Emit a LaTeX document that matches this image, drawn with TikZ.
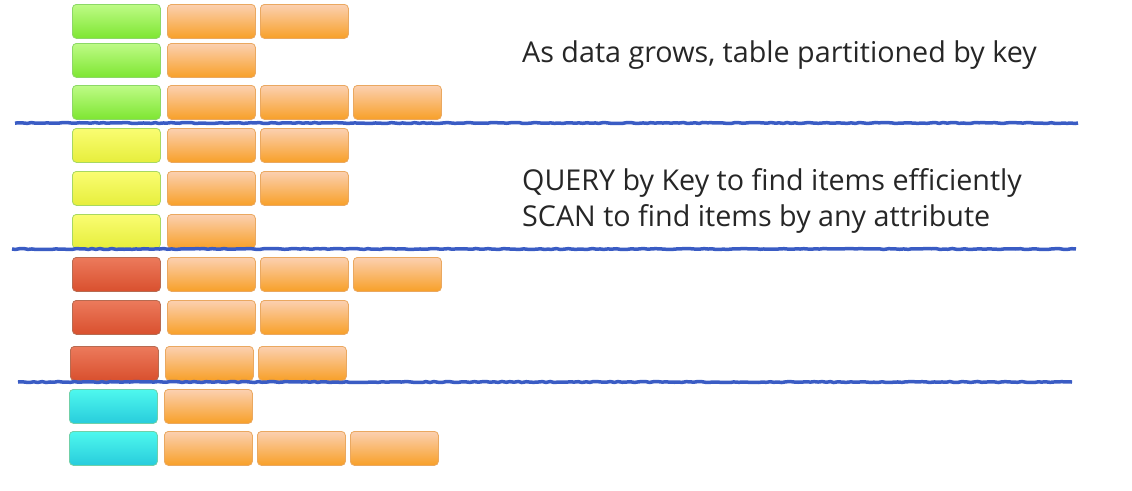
\documentclass[tikz,border=0pt]{standalone}
\usepackage{fontspec}
\setmainfont{Open Sans}
\usetikzlibrary{decorations.pathmorphing}
\definecolor{gTop}{HTML}{BEFB86}
\definecolor{gBot}{HTML}{7EE632}
\definecolor{gLine}{HTML}{8CD866}
\definecolor{yTop}{HTML}{FAFD72}
\definecolor{yBot}{HTML}{E6EE3C}
\definecolor{yLine}{HTML}{A8D860}
\definecolor{rTop}{HTML}{EC7A5C}
\definecolor{rBot}{HTML}{D9502E}
\definecolor{rLine}{HTML}{B86A50}
\definecolor{cTop}{HTML}{4EF8EE}
\definecolor{cBot}{HTML}{28CCDC}
\definecolor{cLine}{HTML}{70D0A8}
\definecolor{oTop}{HTML}{FBD0B0}
\definecolor{oBot}{HTML}{F8A028}
\definecolor{oLine}{HTML}{EAA860}
\definecolor{divBlue}{HTML}{3A5CC4}
\begin{document}
\begin{tikzpicture}[x=1pt,y=-1pt,
  cell/.style={rectangle,rounded corners=4pt,minimum width=88pt,minimum height=34pt,anchor=north west,inner sep=0pt,line width=0.8pt},
  keygreen/.style={cell,draw=gLine,top color=gTop,bottom color=gBot},
  keyyellow/.style={cell,draw=yLine,top color=yTop,bottom color=yBot},
  keyred/.style={cell,draw=rLine,top color=rTop,bottom color=rBot},
  keycyan/.style={cell,draw=cLine,top color=cTop,bottom color=cBot},
  item/.style={cell,draw=oLine,top color=oTop,bottom color=oBot},
  divider/.style={draw=divBlue,line width=3.5pt,decorate,decoration={random steps,segment length=4pt,amplitude=0.5pt}},
  caption/.style={anchor=west,inner sep=0pt,font=\fontsize{28.7}{32}\selectfont,text=black!85}]
\useasboundingbox (0,0) rectangle (1132,490);
% rows: name, key style, y, number of items, x offset
\foreach \n/\k/\y/\m/\dx in {1/keygreen/4/2/0, 2/keygreen/43/1/0, 3/keygreen/85/3/0,
    4/keyyellow/128/2/0, 5/keyyellow/171/2/0, 6/keyyellow/214/1/0,
    7/keyred/257/3/0, 8/keyred/300/2/0, 9/keyred/346/2/-2,
    10/keycyan/389/1/-3, 11/keycyan/431/3/-3}{
  \node[\k] (k\n) at (72+\dx,\y) {};
  \foreach \i in {1,...,\m}{
    \node[item] (r\n i\i) at (167+\dx+93*\i-93,\y) {};
  }
}
\coordinate (l1a) at (15,123); \coordinate (l1b) at (1078,123);
\coordinate (l2a) at (12,249); \coordinate (l2b) at (1076,249);
\coordinate (l3a) at (18,382); \coordinate (l3b) at (1072,382);
\draw[divider] (l1a) -- (l1b);
\draw[divider] (l2a) -- (l2b);
\draw[divider] (l3a) -- (l3b);
\node[caption] (t1) at (522,55) {As data grows, table partitioned by key};
\node[caption] (t2) at (522,183) {QUERY by Key to find items efficiently};
\node[caption] (t3) at (522,219) {SCAN to find items by any attribute};
\end{tikzpicture}
\end{document}
